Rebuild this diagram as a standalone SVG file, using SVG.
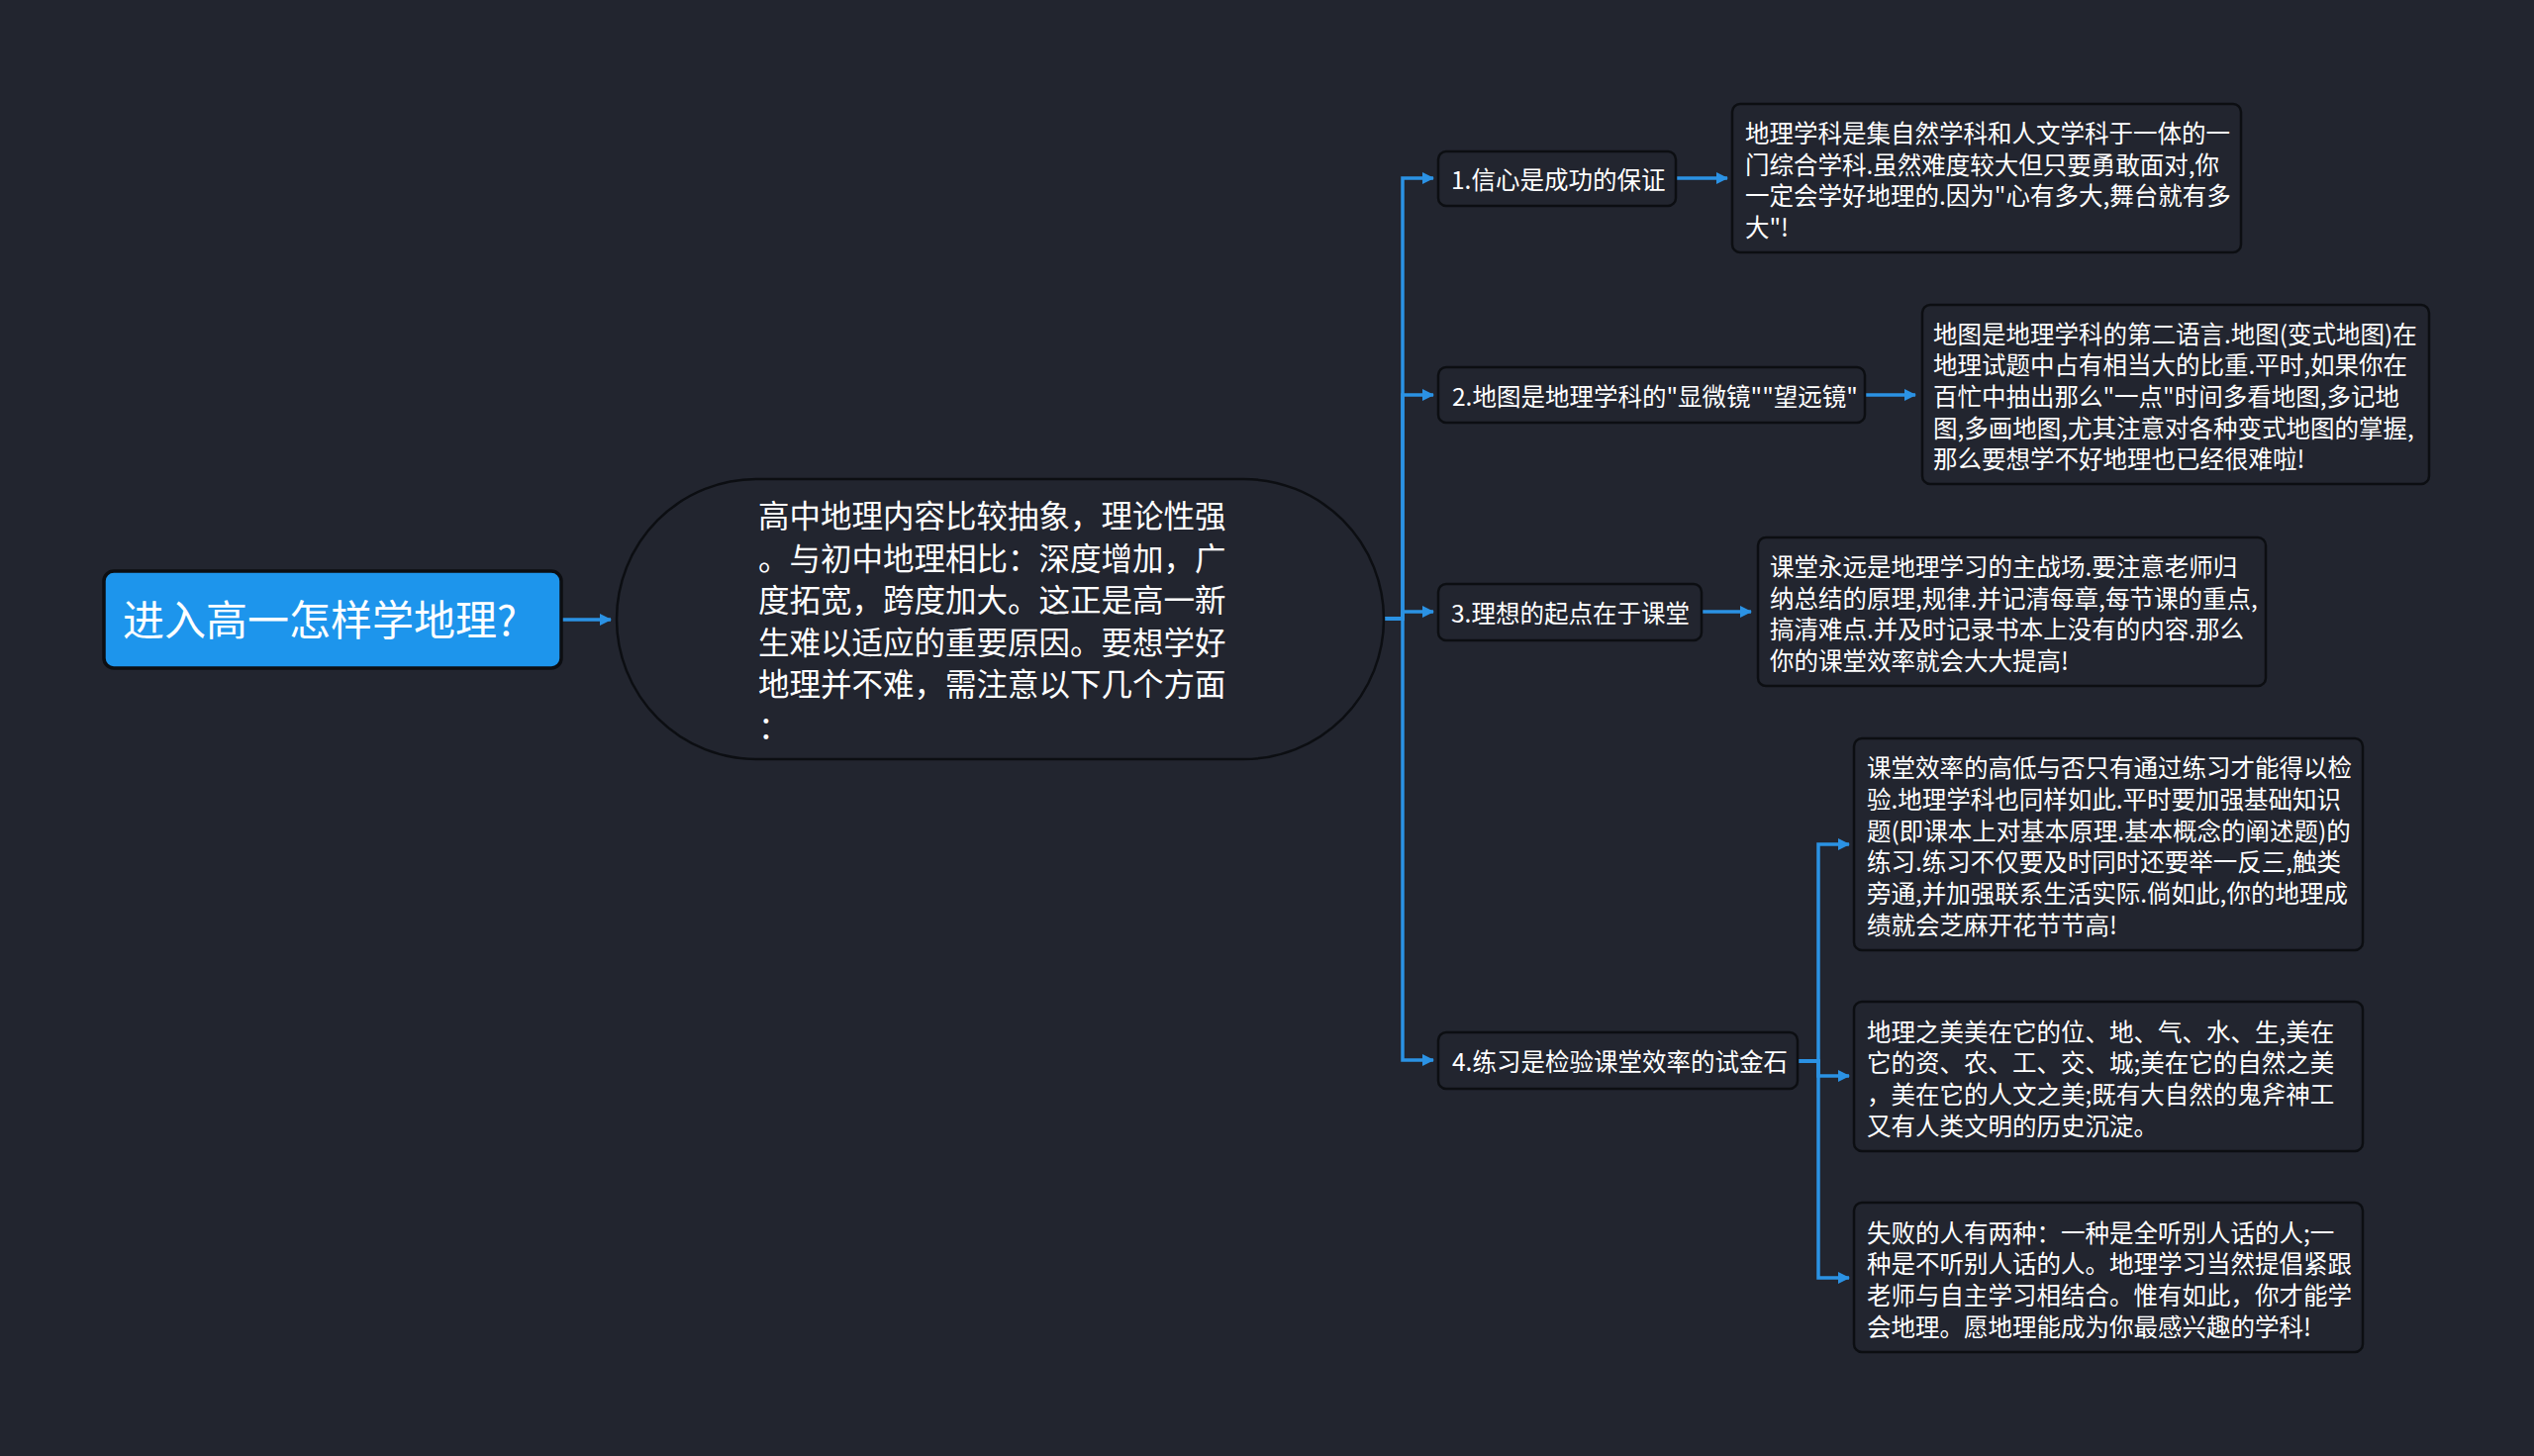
<svg xmlns="http://www.w3.org/2000/svg" width="2560" height="1471" viewBox="0 0 2560 1471">
<defs>
<style>
.t{font-family:"Noto Sans CJK SC","Noto Sans",sans-serif;fill:#ffffff;}
.s{font-size:24.5px;}
.box{fill:#22252f;stroke:#0c0e12;stroke-width:2.5;}
.c{fill:none;stroke:#2b92e4;stroke-width:3.5;stroke-linejoin:miter;}
</style>
<marker id="ah" viewBox="0 0 12 12" refX="11" refY="6" markerWidth="12" markerHeight="12" markerUnits="userSpaceOnUse" orient="auto">
<path d="M0,0 L12,6 L0,12 z" fill="#2b92e4"/>
</marker>
</defs>
<rect x="0" y="0" width="2560" height="1471" fill="#22252f"/>
<g id="connectors">
<path class="c" d="M567,626 H617" marker-end="url(#ah)"/>
<path class="c" d="M1398,625 H1417 V180 H1448" marker-end="url(#ah)"/>
<path class="c" d="M1398,625 H1417 V399 H1448" marker-end="url(#ah)"/>
<path class="c" d="M1398,625 H1417 V618 H1448" marker-end="url(#ah)"/>
<path class="c" d="M1398,625 H1417 V1071 H1448" marker-end="url(#ah)"/>
<path class="c" d="M1693,180 H1745" marker-end="url(#ah)"/>
<path class="c" d="M1884,399 H1935" marker-end="url(#ah)"/>
<path class="c" d="M1719,618 H1769" marker-end="url(#ah)"/>
<path class="c" d="M1816,1072 H1837 V853 H1868" marker-end="url(#ah)"/>
<path class="c" d="M1816,1072 H1837 V1087 H1868" marker-end="url(#ah)"/>
<path class="c" d="M1816,1072 H1837 V1291 H1868" marker-end="url(#ah)"/>
</g>
<g id="root">
<rect x="105" y="577" width="462" height="98" rx="10" fill="#1d95ec" stroke="#0c0e12" stroke-width="3.5"/>
<text class="t" x="124" y="642" font-size="42">进入高一怎样学地理?</text>
</g>
<g id="central">
<rect x="623" y="484" width="775" height="283" rx="141.5" class="box" stroke-width="3"/>
<text class="t" font-size="31.5">
<tspan x="766" y="533">高中地理内容比较抽象，理论性强</tspan>
<tspan x="766" y="575.5">。与初中地理相比：深度增加，广</tspan>
<tspan x="766" y="618">度拓宽，跨度加大。这正是高一新</tspan>
<tspan x="766" y="660.5">生难以适应的重要原因。要想学好</tspan>
<tspan x="766" y="703">地理并不难，需注意以下几个方面</tspan>
<tspan x="766" y="745.5">：</tspan>
</text>
</g>
<g id="n1">
<rect class="box" x="1453" y="153" width="240" height="55" rx="8"/>
<text class="t s" x="1466" y="191">1.信心是成功的保证</text>
</g>
<g id="d1">
<rect class="box" x="1750" y="105" width="514" height="150" rx="8"/>
<text class="t s">
<tspan x="1763" y="144">地理学科是集自然学科和人文学科于一体的一</tspan>
<tspan x="1763" y="175.7">门综合学科.虽然难度较大但只要勇敢面对,你</tspan>
<tspan x="1763" y="207.4">一定会学好地理的.因为"心有多大,舞台就有多</tspan>
<tspan x="1763" y="239">大"!</tspan>
</text>
</g>
<g id="n2">
<rect class="box" x="1453" y="371" width="431" height="56" rx="8"/>
<text class="t s" x="1467" y="409.5">2.地图是地理学科的"显微镜""望远镜"</text>
</g>
<g id="d2">
<rect class="box" x="1942" y="308" width="512" height="181" rx="8"/>
<text class="t s">
<tspan x="1953" y="346.6">地图是地理学科的第二语言.地图(变式地图)在</tspan>
<tspan x="1953" y="378.3">地理试题中占有相当大的比重.平时,如果你在</tspan>
<tspan x="1953" y="410">百忙中抽出那么"一点"时间多看地图,多记地</tspan>
<tspan x="1953" y="441.7">图,多画地图,尤其注意对各种变式地图的掌握,</tspan>
<tspan x="1953" y="473.4">那么要想学不好地理也已经很难啦!</tspan>
</text>
</g>
<g id="n3">
<rect class="box" x="1453" y="590" width="266" height="57" rx="8"/>
<text class="t s" x="1466" y="628.5">3.理想的起点在于课堂</text>
</g>
<g id="d3">
<rect class="box" x="1776" y="543" width="513" height="150" rx="8"/>
<text class="t s">
<tspan x="1788" y="582">课堂永远是地理学习的主战场.要注意老师归</tspan>
<tspan x="1788" y="613.7">纳总结的原理,规律.并记清每章,每节课的重点,</tspan>
<tspan x="1788" y="645.4">搞清难点.并及时记录书本上没有的内容.那么</tspan>
<tspan x="1788" y="677">你的课堂效率就会大大提高!</tspan>
</text>
</g>
<g id="n4">
<rect class="box" x="1453" y="1043" width="363" height="57" rx="8"/>
<text class="t s" x="1467" y="1081.5">4.练习是检验课堂效率的试金石</text>
</g>
<g id="d4a">
<rect class="box" x="1873" y="746" width="514" height="214" rx="8"/>
<text class="t s">
<tspan x="1886" y="785.3">课堂效率的高低与否只有通过练习才能得以检</tspan>
<tspan x="1886" y="817">验.地理学科也同样如此.平时要加强基础知识</tspan>
<tspan x="1886" y="848.7">题(即课本上对基本原理.基本概念的阐述题)的</tspan>
<tspan x="1886" y="880.4">练习.练习不仅要及时同时还要举一反三,触类</tspan>
<tspan x="1886" y="912">旁通,并加强联系生活实际.倘如此,你的地理成</tspan>
<tspan x="1886" y="943.8">绩就会芝麻开花节节高!</tspan>
</text>
</g>
<g id="d4b">
<rect class="box" x="1873" y="1012" width="514" height="151" rx="8"/>
<text class="t s">
<tspan x="1886" y="1051.5">地理之美美在它的位、地、气、水、生,美在</tspan>
<tspan x="1886" y="1083.2">它的资、农、工、交、城;美在它的自然之美</tspan>
<tspan x="1886" y="1114.9">，美在它的人文之美;既有大自然的鬼斧神工</tspan>
<tspan x="1886" y="1146.6">又有人类文明的历史沉淀。</tspan>
</text>
</g>
<g id="d4c">
<rect class="box" x="1873" y="1215" width="514" height="151" rx="8"/>
<text class="t s">
<tspan x="1886" y="1254.5">失败的人有两种：一种是全听别人话的人;一</tspan>
<tspan x="1886" y="1286.2">种是不听别人话的人。地理学习当然提倡紧跟</tspan>
<tspan x="1886" y="1317.9">老师与自主学习相结合。惟有如此，你才能学</tspan>
<tspan x="1886" y="1349.6">会地理。愿地理能成为你最感兴趣的学科!</tspan>
</text>
</g>
</svg>
